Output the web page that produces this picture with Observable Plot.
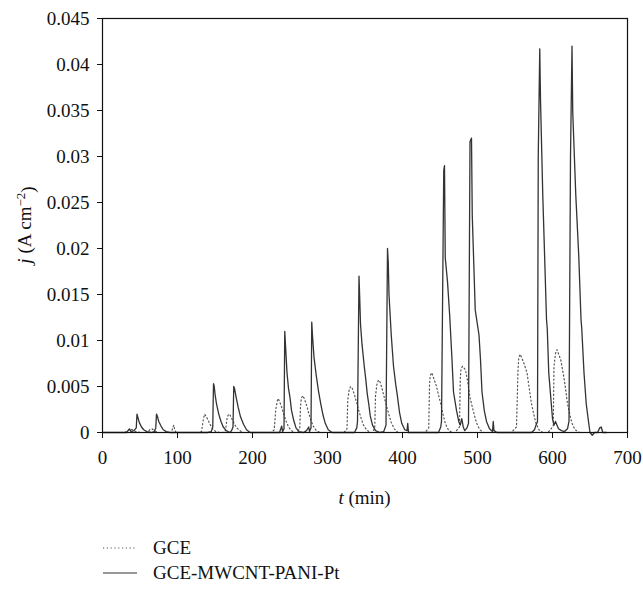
<!DOCTYPE html>
<html>
<head>
<meta charset="utf-8">
<script src="https://cdn.jsdelivr.net/npm/d3@7"></script>
<script src="https://cdn.jsdelivr.net/npm/@observablehq/plot@0.6"></script>
<style>
  body { margin: 0; background: #fff; font-family: "Liberation Serif", "DejaVu Serif", serif; }
  #legend { position: relative; width: 643px; font-size: 19px; color: #111; }
  .row { position: absolute; left: 103px; height: 24px; display: flex; align-items: center; }
  .row svg { margin-right: 16px; }
</style>
</head>
<body>
<div id="chart"></div>
<div id="legend"></div>
<script>
// ---- data ----
const seriesNames = ["GCE", "GCE-MWCNT-PANI-Pt"];

// GCE (dotted)
const gceT = [0,30,34,37,40,44,50,60,63,66,69,74,92,94,95,96,98,
  128,132,134,136,138,141,144,147,151,156,160,164,166,168,170,173,176,179,183,188,
  225,229,231,233,234,236,239,242,245,248,252,256,259,263,264,265,267,269,272,275,278,281,285,290,
  322,326,327,329,331,333,336,339,342,345,348,352,357,360,363,364,366,368,370,373,376,379,382,385,389,394,
  430,435,436,437,439,442,445,448,451,454,457,461,466,470,476,477,478,480,484,487,490,493,496,499,503,508,
  545,552,554,555,557,562,566,569,572,575,578,582,587,594,601,602,604,606,611,615,618,620,623,626,630,636,670];
const gceJ = [0,0,0.0002,0.0004,0.0003,0.0001,0,0,0.0003,0.0004,0.0002,0,0,0.0006,0.0008,0.0004,0,
  0,0.0001,0.0012,0.002,0.0018,0.0013,0.0008,0.0004,0.0001,0,0,0.0002,0.0015,0.002,0.0019,0.0014,0.0009,0.0005,0.0002,0,
  0,0.0003,0.0025,0.0034,0.0037,0.0034,0.0027,0.0019,0.0012,0.0006,0.0002,0,0,0.0004,0.0028,0.0037,0.004,0.0037,0.003,0.0021,0.0013,0.0007,0.0002,0,
  0,0.0004,0.0035,0.0047,0.005,0.0048,0.0041,0.0032,0.0023,0.0015,0.0008,0.0003,0,0,0.0005,0.004,0.0053,0.0057,0.0055,0.0047,0.0037,0.0028,0.0019,0.0011,0.0004,0,
  0,0.0005,0.0052,0.0062,0.0065,0.0058,0.0051,0.0041,0.0031,0.002,0.001,0.0003,0,0,0.0006,0.0058,0.0069,0.0072,0.0068,0.0055,0.0038,0.0028,0.0018,0.001,0.0003,0,
  0,0.0006,0.0068,0.0081,0.0085,0.0075,0.0065,0.0048,0.0031,0.002,0.001,0.0003,0,0,0.0007,0.0072,0.0086,0.009,0.0079,0.0061,0.0044,0.0031,0.002,0.001,0.0003,0,0];

// GCE-MWCNT-PANI-Pt (solid)
const pptT = [0,32,34,36,38,42,45,46,47,49,52,55,59,65,69,71,72,73,75,78,81,85,90,
  140,145,147,148,149,150,152,155,158,161,165,170,172,174,175,176,178,181,184,188,192,197,
  236,239,240,242,243,244,246,248,250,252,255,258,262,268,272,275,276,278,279,280,282,285,288,291,294,297,301,306,
  336,339,340,342,343,344,346,349,351,353,355,357,360,364,370,375,378,380,381,382,385,388,391,393,396,399,403,406,407,408,
  448,451,452,455,456,457,460,463,466,468,472,475,477,479,481,483,486,488,490,492,493,497,502,504,506,509,512,516,520,521,522,526,
  572,576,578,580,581,583,584,587,590,592,593,595,598,600,602,604,606,608,612,616,620,622,624,626,627,631,635,638,639,642,645,648,650,653,656,660,663,665,667,672];
const pptJ = [0,0,0.0002,0.0004,0.0001,0.0002,0.0005,0.002,0.0017,0.0011,0.0006,0.0003,0.0001,0,0.0001,0.0005,0.002,0.0018,0.0012,0.0007,0.0003,0.0001,0,
  0,0.0001,0.0006,0.0053,0.005,0.0042,0.0031,0.002,0.0012,0.0006,0.0002,0,0.0002,0.0006,0.005,0.0048,0.0039,0.0027,0.0017,0.0009,0.0003,0,
  0,0.0007,0.0001,0.0004,0.011,0.0095,0.0065,0.0048,0.0038,0.0024,0.0013,0.0005,0.0001,0,0.0002,0.0006,0.0001,0.0005,0.012,0.0105,0.0082,0.0062,0.0045,0.0031,0.0019,0.001,0.0003,0,
  0,0.0005,0.0012,0.017,0.0145,0.0118,0.0096,0.0072,0.0058,0.0042,0.0031,0.0018,0.0008,0.0002,0,0.0001,0.0008,0.02,0.0185,0.015,0.0106,0.0072,0.0052,0.0041,0.0022,0.001,0.0003,0.0002,0.001,0,
  0,0.0006,0.0012,0.0285,0.029,0.019,0.0164,0.0126,0.0079,0.0044,0.0024,0.0012,0.0008,0.0015,0.0006,0.0002,0.0005,0.001,0.0316,0.032,0.0236,0.0133,0.0106,0.0079,0.0044,0.0024,0.0012,0.0004,0.0001,0.0012,0.0002,0,
  0,0.0003,0.0008,0.0012,0.03,0.0417,0.0362,0.0259,0.0178,0.0123,0.0113,0.0065,0.0035,0.0015,0.0008,0.0012,0.0008,0.0004,0.0002,0.0001,0.0004,0.0012,0.03,0.042,0.0348,0.0259,0.0192,0.0123,0.0113,0.0065,0.0031,0.0012,0,-0.0003,0,0,0.0005,0.0006,0,0];

const xTicks = [0,100,200,300,400,500,600,700];
const xTickLabels = ["0","100","200","300","400","500","600","700"];
const yTicks = [0,0.005,0.01,0.015,0.02,0.025,0.03,0.035,0.04,0.045];
const yTickLabels = ["0","0.005","0.01","0.015","0.02","0.025","0.03","0.035","0.04","0.045"];

// ---- build tables ----
const gce = gceT.map((t, i) => ({t, j: gceJ[i]}));
const ppt = pptT.map((t, i) => ({t, j: pptJ[i]}));

const W = 643, H = 530;
const mTop = 18, mBottom = 98;
const font = "'Liberation Serif', 'Times New Roman', serif";

const chart = Plot.plot({
  width: W, height: H,
  marginLeft: 102, marginRight: 16, marginTop: mTop, marginBottom: mBottom,
  style: {fontFamily: font, fontSize: "19px", color: "#111", background: "#fff", overflow: "visible"},
  x: {domain: [0, 700], label: null},
  y: {domain: [0, 0.045], label: null},
  marks: [
    Plot.axisX({ticks: xTicks, tickFormat: d => xTickLabels[xTicks.indexOf(d)], tickSize: 6, tickPadding: 12, label: null, fontSize: 19, stroke: "#111"}),
    Plot.axisY({ticks: yTicks, tickFormat: d => yTickLabels[yTicks.indexOf(d)], tickSize: 5, tickPadding: 8, label: null, fontSize: 19, stroke: "#111"}),
    Plot.line(gce, {x: "t", y: "j", stroke: "#555", strokeWidth: 1.2, strokeDasharray: "1.2,2.6", curve: "linear"}),
    Plot.line(ppt, {x: "t", y: "j", stroke: "#333", strokeWidth: 1.3, curve: "linear"}),
    Plot.frame({stroke: "#111", strokeWidth: 1.2})
  ]
});
document.getElementById("chart").appendChild(chart);

// axis titles with italic variables and superscript
const svg = d3.select(chart);
const axisY0 = H - mBottom;
const xl = svg.append("text")
  .attr("x", 102 + 350 * 0.75).attr("y", axisY0 + 72)
  .attr("text-anchor", "middle")
  .style("font-family", font).style("font-size", "19px").attr("fill", "#111");
xl.append("tspan").style("font-style", "italic").text("t");
xl.append("tspan").text(" (min)");

const yl = svg.append("text")
  .attr("transform", `translate(31,${(mTop + axisY0) / 2}) rotate(-90)`)
  .attr("text-anchor", "middle")
  .style("font-family", font).style("font-size", "19px").attr("fill", "#111");
yl.append("tspan").style("font-style", "italic").text("j");
yl.append("tspan").text(" (A\u2009cm");
yl.append("tspan").attr("dy", "-0.45em").style("font-size", "13px").text("\u22122");
yl.append("tspan").attr("dy", "0.45em").text(")");

// legend below the plot
const legend = d3.select("#legend").style("height", (592 - H) + "px");
const styles = [{dash: "1.2,2.6", stroke: "#555"}, {dash: null, stroke: "#333"}];
seriesNames.forEach((name, i) => {
  const row = legend.append("div").attr("class", "row").style("top", (6 + i * 25) + "px");
  const s = row.append("svg").attr("width", 34).attr("height", 10);
  const ln = s.append("line").attr("x1", 0).attr("x2", 34).attr("y1", 5).attr("y2", 5)
    .attr("stroke", styles[i].stroke).attr("stroke-width", 1.2);
  if (styles[i].dash) ln.attr("stroke-dasharray", styles[i].dash);
  row.append("span").text(name);
});
</script>
</body>
</html>
